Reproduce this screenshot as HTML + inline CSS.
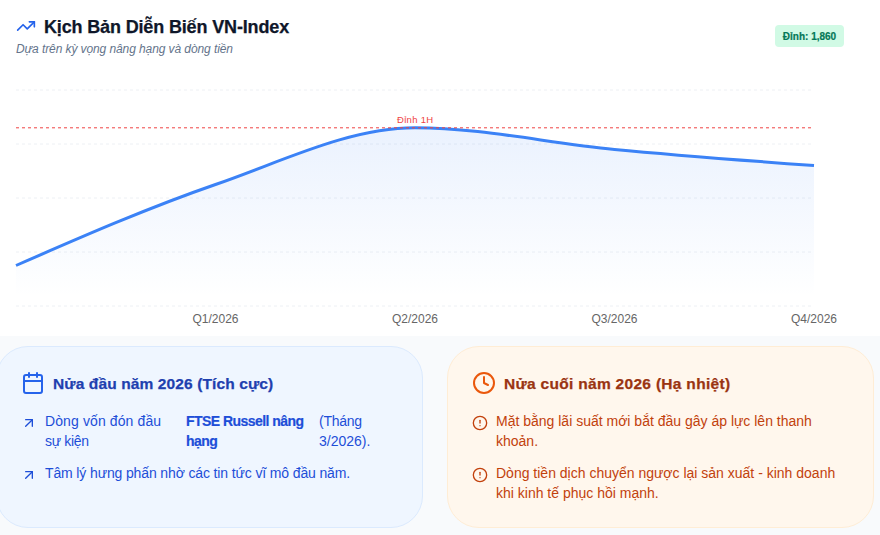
<!DOCTYPE html>
<html>
<head>
<meta charset="utf-8">
<style>
*{box-sizing:border-box;margin:0;padding:0}
html,body{width:880px;height:535px;overflow:hidden;background:#fff}
body{position:relative;font-family:"Liberation Sans",sans-serif}
.abs{position:absolute;white-space:nowrap}
.band{position:absolute;left:0;top:336px;width:880px;height:199px;background:#f8fafc}
.title{-webkit-text-stroke:0.25px currentColor;left:44px;top:13px;font-size:18px;line-height:28px;font-weight:700;color:#0f172a;letter-spacing:-0.15px}
.sub{left:16px;top:41px;letter-spacing:-0.09px;font-size:12px;line-height:16px;font-style:italic;color:#64748b}
.badge{-webkit-text-stroke:0.2px currentColor;left:775px;top:25px;width:69px;height:22px;border-radius:4px;background:#d1fae5;color:#047857;font-size:10px;font-weight:700;line-height:24px;text-align:center}
.xl{font-size:12px;line-height:16px;color:#666;text-align:center;width:80px;top:311px}
.card{position:absolute;top:346px;width:427px;height:182px;border-radius:32px;border:1px solid}
.c1{left:-4px;background:#eff6ff;border-color:#dbeafe}
.c2{left:447px;background:#fff7ed;border-color:#ffedd5}
.ht{-webkit-text-stroke:0.25px currentColor;font-size:15.5px;line-height:24px;font-weight:700;top:372px;letter-spacing:0.12px}
.bt{font-size:14px;line-height:20px}
</style>
</head>
<body>
<div class="band"></div>

<svg class="abs" style="left:16px;top:16px" width="20" height="20" viewBox="0 0 24 24" fill="none" stroke="#2563eb" stroke-width="2" stroke-linecap="round" stroke-linejoin="round"><polyline points="22 7 13.5 15.5 8.5 10.5 2 17"/><polyline points="16 7 22 7 22 13"/></svg>
<div class="abs title">Kịch Bản Diễn Biến VN-Index</div>
<div class="abs sub">Dựa trên kỳ vọng nâng hạng và dòng tiền</div>
<div class="abs badge">Đỉnh: 1,860</div>

<svg class="abs" style="left:0;top:0" width="880" height="336" viewBox="0 0 880 336">
<defs><linearGradient id="g" x1="0" y1="0" x2="0" y2="1"><stop offset="5%" stop-color="#3b82f6" stop-opacity="0.1"/><stop offset="95%" stop-color="#3b82f6" stop-opacity="0"/></linearGradient></defs>
<g stroke="#edf0f4" stroke-width="1" stroke-dasharray="3 3" fill="none">
<line x1="16" y1="90" x2="814" y2="90"/>
<line x1="16" y1="144" x2="814" y2="144"/>
<line x1="16" y1="198" x2="814" y2="198"/>
<line x1="16" y1="252" x2="814" y2="252"/>
<line x1="16" y1="306" x2="814" y2="306"/>
</g>
<path d="M16.00,265.50C82.50,236.47,149.00,207.45,215.50,184.50C282.00,161.55,348.50,127.80,415.00,127.80C481.50,127.80,548.00,143.10,614.50,149.40C681.00,155.70,747.50,160.65,814.00,165.60L814.00,306.00L16.00,306.00Z" fill="url(#g)" stroke="none"/>
<path d="M16.00,265.50C82.50,236.47,149.00,207.45,215.50,184.50C282.00,161.55,348.50,127.80,415.00,127.80C481.50,127.80,548.00,143.10,614.50,149.40C681.00,155.70,747.50,160.65,814.00,165.60" fill="none" stroke="#3b82f6" stroke-width="3"/>
<line x1="16" y1="127.8" x2="814" y2="127.8" stroke="#ef4444" stroke-width="1" stroke-dasharray="3 3"/>
<text x="415.2" y="123.4" text-anchor="middle" font-size="9.5" letter-spacing="0.3" fill="#ef4444" font-family="Liberation Sans">Đỉnh 1H</text>
</svg>
<div class="abs xl" style="left:175.5px">Q1/2026</div>
<div class="abs xl" style="left:375px">Q2/2026</div>
<div class="abs xl" style="left:574.5px">Q3/2026</div>
<div class="abs xl" style="left:774px">Q4/2026</div>

<div class="card c1"></div>
<div class="card c2"></div>

<!-- left card -->
<svg class="abs" style="left:21px;top:371px" width="24" height="24" viewBox="0 0 24 24" fill="none" stroke="#2563eb" stroke-width="2" stroke-linecap="round" stroke-linejoin="round"><rect x="3" y="4" width="18" height="18" rx="2"/><line x1="16" y1="2" x2="16" y2="6"/><line x1="8" y1="2" x2="8" y2="6"/><line x1="3" y1="10" x2="21" y2="10"/></svg>
<div class="abs ht" style="left:53px;color:#1e40af">Nửa đầu năm 2026 (Tích cực)</div>

<svg class="abs" style="left:21px;top:415px" width="16" height="16" viewBox="0 0 24 24" fill="none" stroke="#1d4ed8" stroke-width="2" stroke-linecap="round" stroke-linejoin="round"><path d="M7 7h10v10"/><path d="M7 17 17 7"/></svg>
<div class="abs bt" style="left:45px;top:411px;color:#1d4ed8;letter-spacing:0.11px">Dòng vốn đón đầu<br><span style="letter-spacing:-0.3px">sự kiện</span></div>
<div class="abs bt" style="left:186px;top:411px;color:#1d4ed8;font-weight:700;letter-spacing:-0.55px;-webkit-text-stroke:0.2px currentColor">FTSE Russell nâng<br>hạng</div>
<div class="abs bt" style="left:319px;top:411px;color:#1d4ed8"><span style="letter-spacing:-0.28px">(Tháng</span><br>3/2026).</div>

<svg class="abs" style="left:21px;top:467px" width="16" height="16" viewBox="0 0 24 24" fill="none" stroke="#1d4ed8" stroke-width="2" stroke-linecap="round" stroke-linejoin="round"><path d="M7 7h10v10"/><path d="M7 17 17 7"/></svg>
<div class="abs bt" style="left:45px;top:463px;color:#1d4ed8;letter-spacing:-0.13px">Tâm lý hưng phấn nhờ các tin tức vĩ mô đầu năm.</div>

<!-- right card -->
<svg class="abs" style="left:472px;top:371px" width="24" height="24" viewBox="0 0 24 24" fill="none" stroke="#ea580c" stroke-width="2" stroke-linecap="round" stroke-linejoin="round"><circle cx="12" cy="12" r="10"/><polyline points="12 6 12 12 16 14"/></svg>
<div class="abs ht" style="left:504px;color:#9a3412;letter-spacing:0.3px">Nửa cuối năm 2026 (Hạ nhiệt)</div>

<svg class="abs" style="left:472px;top:415px" width="16" height="16" viewBox="0 0 24 24" fill="none" stroke="#c2410c" stroke-width="2" stroke-linecap="round" stroke-linejoin="round"><circle cx="12" cy="12" r="10"/><line x1="12" y1="8" x2="12" y2="12"/><line x1="12" y1="16" x2="12.01" y2="16"/></svg>
<div class="abs bt" style="left:496px;top:411px;color:#c2410c">Mặt bằng lãi suất mới bắt đầu gây áp lực lên thanh<br>khoản.</div>

<svg class="abs" style="left:472px;top:467px" width="16" height="16" viewBox="0 0 24 24" fill="none" stroke="#c2410c" stroke-width="2" stroke-linecap="round" stroke-linejoin="round"><circle cx="12" cy="12" r="10"/><line x1="12" y1="8" x2="12" y2="12"/><line x1="12" y1="16" x2="12.01" y2="16"/></svg>
<div class="abs bt" style="left:496px;top:463px;color:#c2410c">Dòng tiền dịch chuyển ngược lại sản xuất - kinh doanh<br>khi kinh tế phục hồi mạnh.</div>

</body>
</html>
